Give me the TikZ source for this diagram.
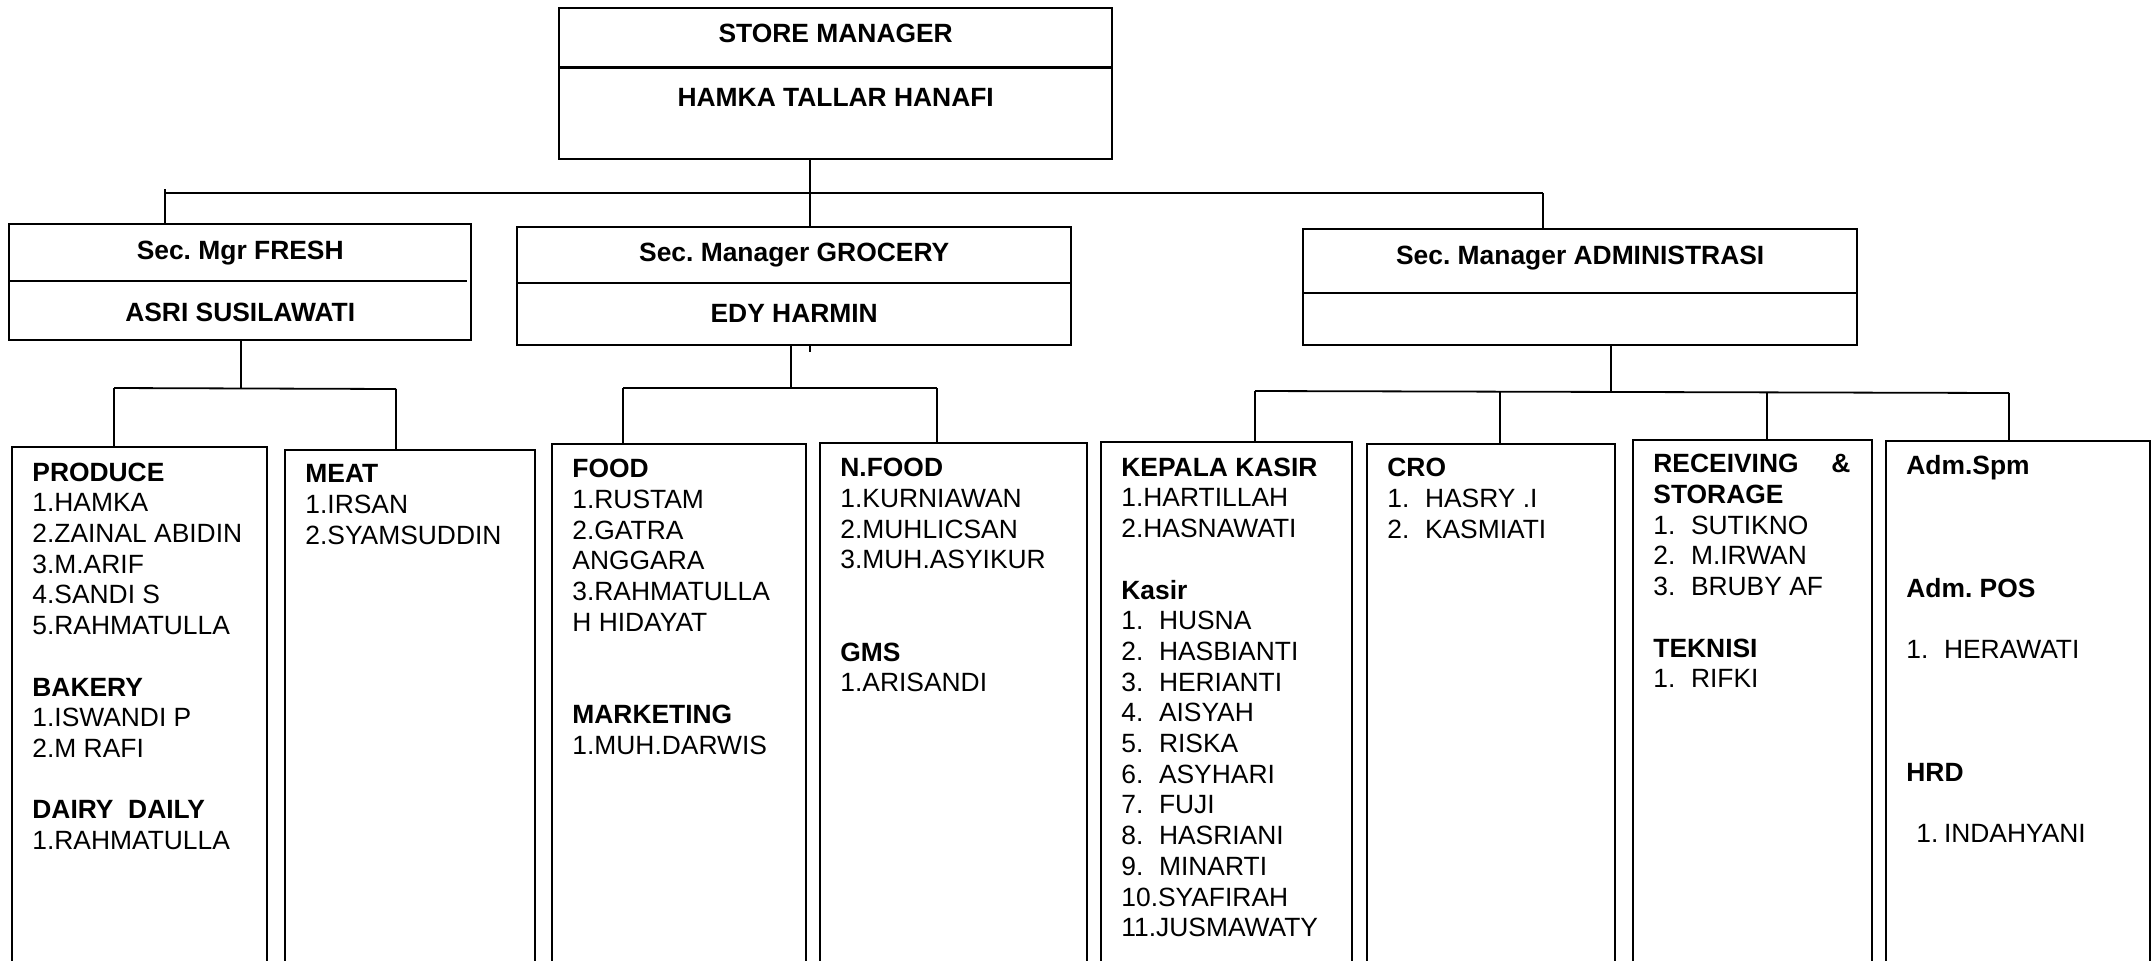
\documentclass[tikz,border=0pt]{standalone}
\usepackage{fontspec}
\setmainfont{Liberation Sans}
\usetikzlibrary{calc}
\newcommand\fsz{\fontsize{13.2pt}{15.35pt}\selectfont\frenchspacing}
\newcommand\nb[1]{\makebox[18.8pt][l]{#1}}
\newcommand\blk{\mbox{}}
\begin{document}
\begin{tikzpicture}[x=0.5pt,y=-0.5pt,
  mbox/.style={draw, line width=1.2pt, inner sep=0pt, anchor=north west, rectangle},
  lbox/.style={draw, line width=1.1pt, inner sep=0pt, anchor=north west, rectangle},
  divl/.style={line width=1.1pt},
  conn/.style={line width=0.9pt},
  ttl/.style={font=\bfseries\fsz, inner sep=0pt, anchor=base},
  lst/.style={font=\fsz, inner sep=0pt, anchor=base west}]
\useasboundingbox (0,0) rectangle (2156,960);
\clip (0,0) rectangle (2156,960);

% manager boxes
\node[mbox, minimum width=276.5pt, minimum height=75.5pt] (sm) at (558,7) {};
\node[mbox, minimum width=231pt, minimum height=58pt] (fr) at (8,223) {};
\node[mbox, minimum width=277pt, minimum height=59pt] (gr) at (516,226) {};
\node[mbox, minimum width=277pt, minimum height=58pt] (ad) at (1302,228) {};

\draw[divl] ($(sm.north west)+(0,60.5)$) -- ($(sm.north east)+(0,60.5)$);
\draw[divl] ($(fr.north west)+(0,58)$) -- ($(fr.north east)+(-5,58)$);
\draw[divl] ($(gr.north west)+(0,57)$) -- ($(gr.north east)+(0,57)$);
\draw[divl] ($(ad.north west)+(0,65)$) -- ($(ad.north east)+(0,65)$);

\node[ttl] (smt) at ($(sm.north)+(0,35.5)$) {STORE MANAGER};
\node[ttl] (smn) at ($(sm.north)+(0,99.5)$) {HAMKA TALLAR HANAFI};
\node[ttl] (frt) at ($(fr.north)+(0,36.5)$) {Sec. Mgr FRESH};
\node[ttl] (frn) at ($(fr.north)+(0,98.5)$) {ASRI SUSILAWATI};
\node[ttl] (grt) at ($(gr.north)+(0,35.5)$) {Sec. Manager GROCERY};
\node[ttl] (grn) at ($(gr.north)+(0,96.5)$) {EDY HARMIN};
\node[ttl] (adt) at ($(ad.north)+(0,36.5)$) {Sec. Manager ADMINISTRASI};

% staff boxes
\node[lbox, minimum width=127.5pt, minimum height=264.5pt] (prod) at (11,446) {};
\node[lbox, minimum width=125pt, minimum height=263pt] (meat) at (284,449) {};
\node[lbox, minimum width=127pt, minimum height=266pt] (food) at (551,443) {};
\node[lbox, minimum width=133.5pt, minimum height=266.5pt] (nfood) at (819,442) {};
\node[lbox, minimum width=125.5pt, minimum height=267pt] (kep) at (1100,441) {};
\node[lbox, minimum width=124pt, minimum height=266pt] (cro) at (1366,443) {};
\node[lbox, minimum width=119.5pt, minimum height=268pt] (rec) at (1632,439) {};
\node[lbox, minimum width=132pt, minimum height=267.5pt] (adm) at (1885,440) {};

% staff texts
\node[lst] (prodt) at (32,481.1) {\parbox[t]{200pt}{\raggedright\textbf{PRODUCE}\\1.HAMKA\\2.ZAINAL ABIDIN\\3.M.ARIF\\4.SANDI S\\5.RAHMATULLA\\\blk\\\textbf{BAKERY}\\1.ISWANDI P\\2.M RAFI\\\blk\\\textbf{DAIRY\ \ DAILY}\\1.RAHMATULLA}};
\node[lst] (meatt) at (305,482.8) {\parbox[t]{200pt}{\raggedright\textbf{MEAT}\\1.IRSAN\\2.SYAMSUDDIN}};
\node[lst] (foodt) at (572,477.8) {\parbox[t]{200pt}{\raggedright\textbf{FOOD}\\1.RUSTAM\\2.GATRA\\ANGGARA\\3.RAHMATULLA\\H HIDAYAT\\\blk\\\blk\\\textbf{MARKETING}\\1.MUH.DARWIS}};
\node[lst] (nfoodt) at (840,476.8) {\parbox[t]{200pt}{\raggedright\textbf{N.FOOD}\\1.KURNIAWAN\\2.MUHLICSAN\\3.MUH.ASYIKUR\\\blk\\\blk\\\textbf{GMS}\\1.ARISANDI}};
\node[lst] (kept) at (1121,476.2) {\parbox[t]{200pt}{\raggedright\textbf{KEPALA KASIR}\\1.HARTILLAH\\2.HASNAWATI\\\blk\\\textbf{Kasir}\\\nb{1.}HUSNA\\\nb{2.}HASBIANTI\\\nb{3.}HERIANTI\\\nb{4.}AISYAH\\\nb{5.}RISKA\\\nb{6.}ASYHARI\\\nb{7.}FUJI\\\nb{8.}HASRIANI\\\nb{9.}MINARTI\\10.SYAFIRAH\\11.JUSMAWATY}};
\node[lst] (crot) at (1387,476.8) {\parbox[t]{200pt}{\raggedright\textbf{CRO}\\\nb{1.}HASRY .I\\\nb{2.}KASMIATI}};
\node[lst] (rect) at (1653,472.8) {\parbox[t]{200pt}{\raggedright\textbf{\makebox[98.5pt][l]{RECEIVING\hfill\&}}\\\textbf{STORAGE}\\\nb{1.}SUTIKNO\\\nb{2.}M.IRWAN\\\nb{3.}BRUBY AF\\\blk\\\textbf{TEKNISI}\\\nb{1.}RIFKI}};
\node[lst] (admt) at (1906,474.5) {\parbox[t]{200pt}{\raggedright\textbf{Adm.Spm}\\\blk\\\blk\\\blk\\\textbf{Adm. POS}\\\blk\\\nb{1.}HERAWATI\\\blk\\\blk\\\blk\\\textbf{HRD}\\\blk\\\hspace*{5pt}\makebox[13.8pt][l]{1.}INDAHYANI}};

% top level connectors
\coordinate (j0) at (810,193);
\coordinate (bl) at (165,193);
\coordinate (blt) at (165,189);
\coordinate (br) at (1543,193);
\draw[conn] (sm.south -| j0) -- (gr.north -| j0);
\draw[conn] (bl) -- (br);
\draw[conn] (blt) -- (fr.north -| blt);
\draw[conn] (br) -- (ad.north -| br);

% fresh
\coordinate (fj) at (241,388);
\coordinate (fl) at (114,388);
\coordinate (fq) at (396,389);
\draw[conn] (fr.south -| fj) -- (fj);
\draw[conn] (fl) -- (fq);
\draw[conn] (fl) -- (prod.north -| fl);
\draw[conn] (fq) -- (meat.north -| fq);

% grocery
\coordinate (gj) at (791,388);
\coordinate (gl) at (623,388);
\coordinate (gq) at (937,388);
\draw[conn] (gr.south -| gj) -- (gj);
\draw[conn] (gl) -- (gq);
\draw[conn] (gl) -- (food.north -| gl);
\draw[conn] (gq) -- (nfood.north -| gq);
\coordinate (gt) at (810,352);
\draw[conn] (gr.south -| j0) -- (gt);

% administrasi
\coordinate (aj) at (1611,391);
\coordinate (al) at (1255,391);
\coordinate (aq) at (2009,393);
\coordinate (a2) at (1500,392);
\coordinate (a3) at (1767,392);
\draw[conn] (ad.south -| aj) -- (aj);
\draw[conn] (al) -- (aq);
\draw[conn] (al) -- (kep.north -| al);
\draw[conn] (a2) -- (cro.north -| a2);
\draw[conn] (a3) -- (rec.north -| a3);
\draw[conn] (aq) -- (adm.north -| aq);
\end{tikzpicture}
\end{document}
